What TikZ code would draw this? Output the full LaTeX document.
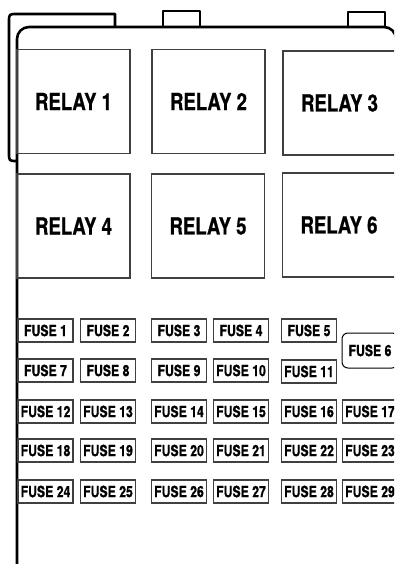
\documentclass[tikz,border=0pt]{standalone}
\usepackage{fontspec}
\setsansfont{TeX Gyre Heros}[FakeStretch=0.79, BoldFeatures={FakeBold=0.8}]
\usetikzlibrary{positioning}
\tikzset{
    % --- Relay socket (large square) ---
    relay/.style = {
        rectangle, draw=black!75, line width=1.1pt,
        minimum width=113pt, minimum height=104pt, inner sep=0pt,
        font=\sffamily\bfseries\fontsize{23.5}{23.5}\selectfont
    },
    % --- Fuse slot (small box) ---
    fuse/.style = {
        rectangle, draw=black!75, line width=1.3pt,
        minimum width=55pt, minimum height=23pt, inner sep=0pt,
        font=\sffamily\bfseries\fontsize{15.5}{15.5}\selectfont
    },
    % --- Odd fuse with rounded holder ---
    big fuse/.style = {
        fuse, draw=black, line width=1pt, rounded corners=6pt,
        minimum width=56pt, minimum height=35pt
    },
    % --- Housing outline ---
    housing/.style = {
        draw=black, line width=2.6pt, line join=round
    }
}

\begin{document}
\begin{tikzpicture}[x=1pt, y=-1pt]

\useasboundingbox (0,0) rectangle (394,564);
\clip (0,0) rectangle (394,564);

% ---------------------------------------------------------
% Housing
% ---------------------------------------------------------
\coordinate (backTR) at (115,14);
\draw[housing] (115,27) -- (backTR) -- (17,14) .. controls (9,14) .. (9,22)
    -- (9,153) .. controls (9,161) .. (17,161);
\draw[housing] (163,27) rectangle (200,11);
\draw[housing] (348,27) rectangle (385,12);
\draw[housing, rounded corners=12pt] (17,600) |- (396,27) -- (396,600);

% ---------------------------------------------------------
% Relays
% ---------------------------------------------------------
\node[relay] (R1) at (73.5,101.5) {RELAY 1};
\node[relay] (R2) at (208.5,101.5) {RELAY 2};
\node[relay] (R3) at (339.5,103) {RELAY 3};
\node[relay] (R4) at (73.5,226) {RELAY 4};
\node[relay] (R5) at (208,226) {RELAY 5};
\node[relay] (R6) at (339,225) {RELAY 6};

% ---------------------------------------------------------
% Fuses
% ---------------------------------------------------------
% row 1
\node[fuse] (F1) at (45.5,330.5) {FUSE 1};
\node[fuse] (F2) at (108,330.5) {FUSE 2};
\node[fuse] (F3) at (179,330.5) {FUSE 3};
\node[fuse] (F4) at (241,330.5) {FUSE 4};
\node[fuse] (F5) at (309,330.5) {FUSE 5};
\node[big fuse] (F6) at (370,350.5) {FUSE 6};

% row 2
\node[fuse] (F7) at (45.5,370.5) {FUSE 7};
\node[fuse] (F8) at (108,370.5) {FUSE 8};
\node[fuse] (F9) at (179,370.5) {FUSE 9};
\node[fuse] (F10) at (241,370.5) {FUSE 10};
\node[fuse] (F11) at (309,371.5) {FUSE 11};

% row 3
\node[fuse] (F12) at (45.5,411.5) {FUSE 12};
\node[fuse] (F13) at (108,411.5) {FUSE 13};
\node[fuse] (F14) at (179,411.5) {FUSE 14};
\node[fuse] (F15) at (241,411.5) {FUSE 15};
\node[fuse] (F16) at (309,411.5) {FUSE 16};
\node[fuse] (F17) at (370,411.5) {FUSE 17};

% row 4
\node[fuse] (F18) at (45.5,450.5) {FUSE 18};
\node[fuse] (F19) at (108,450.5) {FUSE 19};
\node[fuse] (F20) at (179,450.5) {FUSE 20};
\node[fuse] (F21) at (241,450.5) {FUSE 21};
\node[fuse] (F22) at (309,450.5) {FUSE 22};
\node[fuse] (F23) at (370,450.5) {FUSE 23};

% row 5
\node[fuse] (F24) at (45.5,491.5) {FUSE 24};
\node[fuse] (F25) at (108,491.5) {FUSE 25};
\node[fuse] (F26) at (179,491.5) {FUSE 26};
\node[fuse] (F27) at (241,491.5) {FUSE 27};
\node[fuse] (F28) at (309,491.5) {FUSE 28};
\node[fuse] (F29) at (370,491.5) {FUSE 29};

\end{tikzpicture}
\end{document}
